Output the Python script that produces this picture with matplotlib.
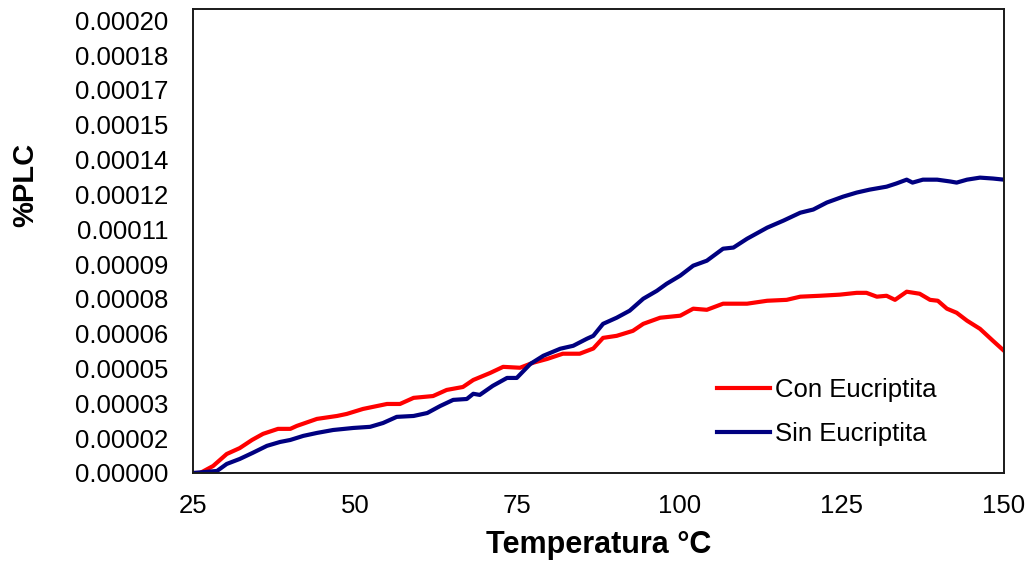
import matplotlib
matplotlib.use("Agg")
import matplotlib.pyplot as plt
import numpy as np
from matplotlib.ticker import FixedLocator, FormatStrFormatter

# --- Thermal expansion curves (%PLC vs temperature) ---
temp_con = [25.0, 26.1, 28.1, 30.2, 32.2, 34.1, 35.8, 38.1, 40.0, 41.0, 44.1, 47.2,
            48.7, 51.2, 54.9, 56.9, 59.0, 62.0, 64.1, 66.6, 68.2, 70.8, 72.8, 75.4,
            77.4, 79.6, 82.0, 84.6, 86.7, 88.2, 90.3, 92.8, 94.4, 97.0, 100.1, 102.1,
            104.2, 106.7, 110.4, 113.5, 116.5, 118.6, 121.6, 124.7, 127.3, 128.8,
            130.4, 131.9, 133.2, 135.0, 137.0, 138.6, 139.8, 141.2, 142.7, 144.3,
            146.3, 148.3, 150.0]
plc_con = [0.0, 0.0, 0.31e-5, 0.84e-5, 1.10e-5, 1.46e-5, 1.73e-5, 1.95e-5, 1.95e-5,
           2.08e-5, 2.39e-5, 2.52e-5, 2.61e-5, 2.83e-5, 3.05e-5, 3.05e-5, 3.32e-5,
           3.40e-5, 3.67e-5, 3.80e-5, 4.11e-5, 4.42e-5, 4.69e-5, 4.65e-5, 4.87e-5,
           5.04e-5, 5.27e-5, 5.27e-5, 5.50e-5, 5.97e-5, 6.06e-5, 6.28e-5, 6.59e-5,
           6.86e-5, 6.95e-5, 7.26e-5, 7.21e-5, 7.48e-5, 7.48e-5, 7.61e-5, 7.65e-5,
           7.79e-5, 7.83e-5, 7.88e-5, 7.96e-5, 7.96e-5, 7.79e-5, 7.83e-5, 7.65e-5,
           8.01e-5, 7.92e-5, 7.65e-5, 7.61e-5, 7.26e-5, 7.08e-5, 6.73e-5, 6.37e-5,
           5.84e-5, 5.40e-5]

temp_sin = [25.0, 28.7, 30.2, 32.2, 34.2, 36.4, 38.4, 40.0, 42.0, 44.1, 46.6, 49.7,
            52.3, 54.3, 56.4, 59.0, 61.1, 63.1, 65.1, 67.2, 68.2, 69.2, 71.2, 73.4,
            74.9, 77.0, 79.0, 81.6, 83.6, 85.7, 86.7, 88.2, 90.3, 92.3, 94.4, 96.5,
            98.0, 100.1, 102.1, 104.2, 106.7, 108.3, 110.4, 113.5, 116.0, 118.6,
            120.6, 122.7, 125.2, 127.3, 129.3, 131.9, 133.4, 135.0, 135.9, 137.5,
            139.7, 141.7, 142.7, 144.3, 146.3, 148.3, 150.0]
plc_sin = [0.0, 0.09e-5, 0.40e-5, 0.62e-5, 0.89e-5, 1.20e-5, 1.37e-5, 1.46e-5,
           1.64e-5, 1.77e-5, 1.90e-5, 1.99e-5, 2.04e-5, 2.21e-5, 2.48e-5, 2.52e-5,
           2.65e-5, 2.96e-5, 3.23e-5, 3.27e-5, 3.50e-5, 3.45e-5, 3.85e-5, 4.20e-5,
           4.20e-5, 4.82e-5, 5.18e-5, 5.49e-5, 5.62e-5, 5.93e-5, 6.06e-5, 6.59e-5,
           6.86e-5, 7.17e-5, 7.70e-5, 8.05e-5, 8.36e-5, 8.72e-5, 9.16e-5, 9.38e-5,
           9.91e-5, 9.96e-5, 10.35e-5, 10.84e-5, 11.15e-5, 11.50e-5, 11.64e-5,
           11.95e-5, 12.21e-5, 12.39e-5, 12.52e-5, 12.65e-5, 12.79e-5, 12.96e-5,
           12.83e-5, 12.96e-5, 12.96e-5, 12.88e-5, 12.83e-5, 12.96e-5, 13.05e-5,
           13.01e-5, 12.96e-5]

x_ticks = [25, 50, 75, 100, 125, 150]
y_ticks = np.linspace(0, 0.0002, 14)

plt.rcParams['font.family'] = ['Liberation Sans', 'DejaVu Sans']

fig = plt.figure(figsize=(10.31, 5.62), dpi=100)
ax = fig.add_axes([193 / 1031, 89 / 562, 811 / 1031, 464 / 562])

ax.plot(temp_con, plc_con, color='#ff0000', lw=3, label='Con Eucriptita',
        solid_joinstyle='round')
ax.plot(temp_sin, plc_sin, color='#000080', lw=3, label='Sin Eucriptita',
        solid_joinstyle='round')

ax.set_xlim(25, 150)
ax.set_ylim(0, 0.000205)
ax.xaxis.set_major_locator(FixedLocator(x_ticks))
ax.yaxis.set_major_locator(FixedLocator(y_ticks))
ax.yaxis.set_major_formatter(FormatStrFormatter('%.5f'))
ax.tick_params(axis='both', length=0, labelsize=18.5, colors='#000000')
ax.tick_params(axis='y', pad=18)
ax.tick_params(axis='x', pad=15)

for s in ax.spines.values():
    s.set_color('#1a1a1a')
    s.set_linewidth(1.4)

ax.set_xlabel('Temperatura °C', fontsize=22, fontweight='bold', labelpad=9)
ax.set_ylabel('%PLC', fontsize=21, fontweight='bold')
ax.yaxis.set_label_coords(-0.189, 0.62)

ax.legend(loc='upper left', bbox_to_anchor=(0.646, 0.205), frameon=False,
          fontsize=18.5, handlelength=2.05, handletextpad=0.22,
          labelspacing=0.78, borderpad=0, borderaxespad=0)

fig.savefig('out.png', dpi=100, facecolor='white')
